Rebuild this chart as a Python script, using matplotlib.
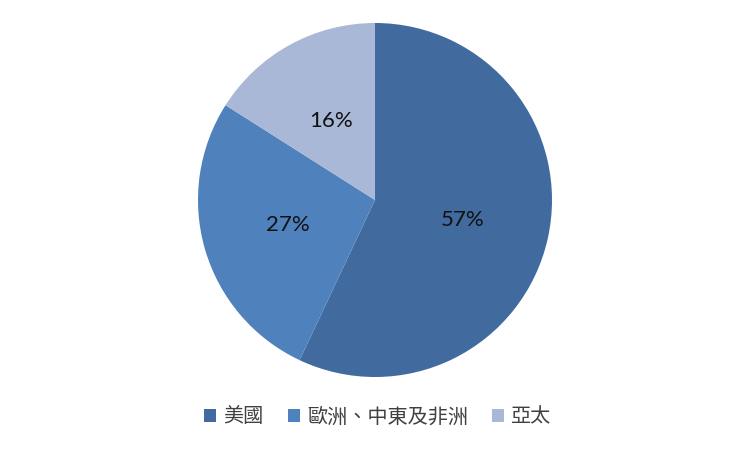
import matplotlib.pyplot as plt

plt.rcParams['font.family'] = ['Noto Sans CJK TC', 'DejaVu Sans']

regions = ['美國', '歐洲、中東及非洲', '亞太']
shares = [57, 27, 16]
colors = ['#416A9E', '#4F81BD', '#A9B8D7']

fig = plt.figure(figsize=(7.5, 4.49), dpi=100)
W, H = 750, 449
cx, cy, r = 375, 200, 177
ax = fig.add_axes([(cx - r) / W, (H - cy - r) / H, 2 * r / W, 2 * r / H])

wedges, texts, autotexts = ax.pie(
    shares, colors=colors, startangle=90, counterclock=False,
    autopct='%d%%', pctdistance=0.51, radius=1.0,
    textprops={'fontsize': 16, 'color': '#111111', 'family': ['Lato', 'DejaVu Sans']},
    wedgeprops={'linewidth': 0})
ax.set_xlim(-1, 1)
ax.set_ylim(-1, 1)
ax.set_aspect('equal')

fig.legend(wedges, regions, loc='center', bbox_to_anchor=(378 / W, 1 - 417 / H),
           ncol=3, frameon=False, fontsize=14.5, handlelength=0.6, handleheight=0.6,
           handletextpad=0.35, columnspacing=1.2, labelcolor='#404040')

fig.savefig('out.png', dpi=100)
